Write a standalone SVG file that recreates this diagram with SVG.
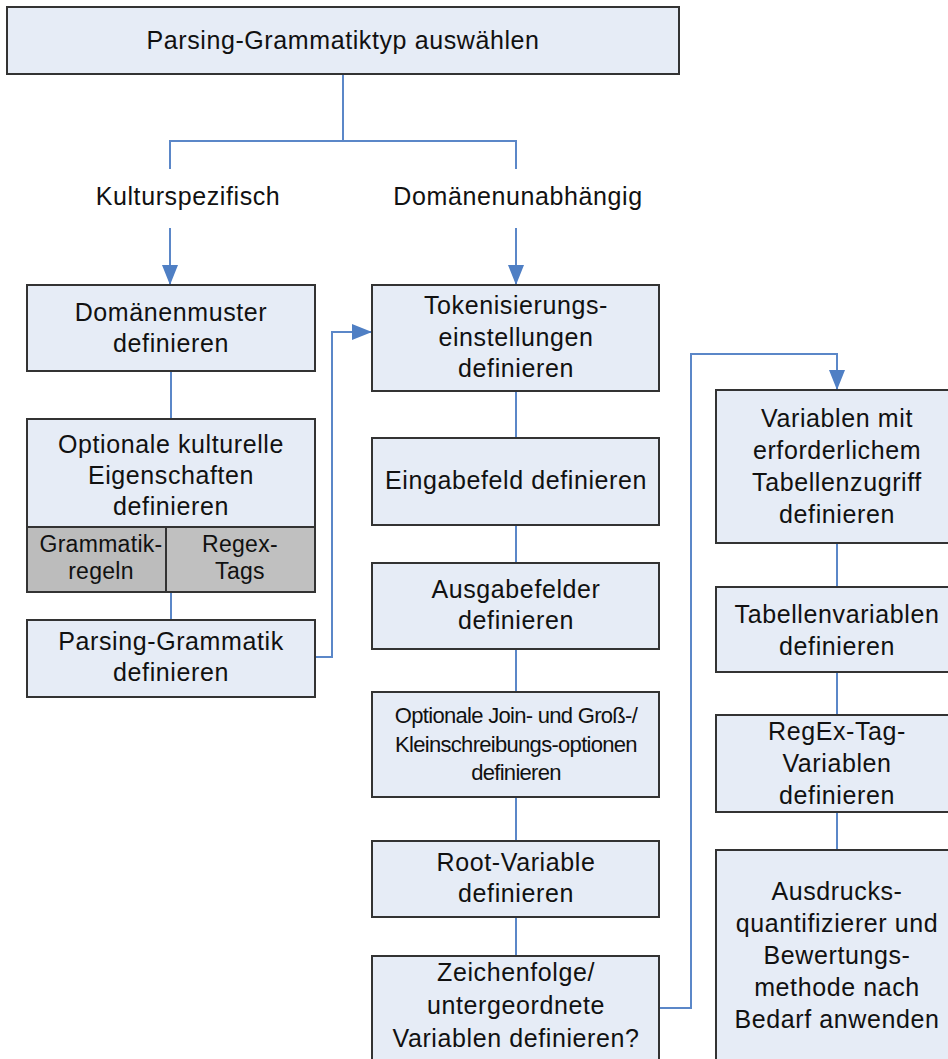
<svg xmlns="http://www.w3.org/2000/svg" width="948" height="1059" viewBox="0 0 948 1059">
<defs>
<marker id="arr" markerUnits="userSpaceOnUse" markerWidth="20" markerHeight="16" refX="20" refY="8" orient="auto">
<path d="M0,0 L20,8 L0,16 z" fill="#4f7fc4"/>
</marker>
<style>
.box{fill:#e6ecf6;stroke:#333;stroke-width:2}
.gray{fill:#c0c0c0;stroke:#333;stroke-width:2}
.t{font-family:"Liberation Sans",Arial,sans-serif;font-size:25px;letter-spacing:0.6px;fill:#111;text-anchor:middle}
.s{font-size:23px;letter-spacing:0.3px}
.c{font-size:22px;letter-spacing:-0.7px}
.ln{fill:none;stroke:#5b87c8;stroke-width:2}
</style>
</defs>
<rect width="948" height="1059" fill="#fff"/>
<g id="connectors">
<path class="ln" d="M343,74 V141 M170,169 V141 H516 V169"/>
<path class="ln" d="M170,228 V285" marker-end="url(#arr)"/>
<path class="ln" d="M516,228 V285" marker-end="url(#arr)"/>
<path class="ln" d="M171,371 V419 M171,592 V620"/>
<path class="ln" d="M315,657 H332 V332 H372" marker-end="url(#arr)"/>
<path class="ln" d="M516,391 V438 M516,525 V563 M516,649 V692 M516,797 V841 M516,917 V956"/>
<path class="ln" d="M659,1008 H691 V354 H837 V390" marker-end="url(#arr)"/>
<path class="ln" d="M837,543 V587 M837,672 V715 M837,812 V850"/>
</g>
<g id="n_top"><rect class="box" x="7" y="7" width="672" height="67"/><text class="t" x="343" y="49">Parsing-Grammatiktyp auswählen</text></g>
<g id="lbl_kultur"><text class="t" x="188" y="205">Kulturspezifisch</text></g>
<g id="lbl_domain"><text class="t" x="518" y="205">Domänenunabhängig</text></g>
<g id="n_domaenenmuster"><rect class="box" x="27" y="285" width="288" height="86"/><text class="t" x="171" y="321">Domänenmuster</text><text class="t" x="171" y="352">definieren</text></g>
<g id="n_optkult"><rect class="box" x="27" y="419" width="288" height="173"/><text class="t" x="171" y="453">Optionale kulturelle</text><text class="t" x="171" y="484">Eigenschaften</text><text class="t" x="171" y="515">definieren</text>
<rect class="gray" x="27" y="527" width="139" height="65" style="fill:#bcbcbc"/><rect class="gray" x="166" y="527" width="149" height="65"/>
<text class="t s" x="101" y="552">Grammatik-</text><text class="t s" x="101" y="579">regeln</text><text class="t s" x="240" y="552">Regex-</text><text class="t s" x="240" y="579">Tags</text></g>
<g id="n_parsgram"><rect class="box" x="27" y="620" width="288" height="77"/><text class="t" x="171" y="650">Parsing-Grammatik</text><text class="t" x="171" y="681">definieren</text></g>
<g id="n_token"><rect class="box" x="372" y="285" width="287" height="106"/><text class="t" x="516" y="314">Tokenisierungs-</text><text class="t" x="516" y="346">einstellungen</text><text class="t" x="516" y="377">definieren</text></g>
<g id="n_eingabe"><rect class="box" x="372" y="438" width="287" height="87"/><text class="t" x="516" y="489">Eingabefeld definieren</text></g>
<g id="n_ausgabe"><rect class="box" x="372" y="563" width="287" height="86"/><text class="t" x="516" y="598">Ausgabefelder</text><text class="t" x="516" y="629">definieren</text></g>
<g id="n_join"><rect class="box" x="372" y="692" width="287" height="105"/><text class="t c" x="516" y="723">Optionale Join- und Groß-/</text><text class="t c" x="516" y="752">Kleinschreibungs-optionen</text><text class="t c" x="516" y="780">definieren</text></g>
<g id="n_root"><rect class="box" x="372" y="841" width="287" height="76"/><text class="t" x="516" y="871">Root-Variable</text><text class="t" x="516" y="902">definieren</text></g>
<g id="n_zeichen"><rect class="box" x="372" y="956" width="287" height="120"/><text class="t" x="516" y="981">Zeichenfolge/</text><text class="t" x="516" y="1014">untergeordnete</text><text class="t" x="516" y="1047">Variablen definieren?</text></g>
<g id="n_tabzugriff"><rect class="box" x="716" y="390" width="242" height="153"/><text class="t" x="837" y="427">Variablen mit</text><text class="t" x="837" y="459">erforderlichem</text><text class="t" x="837" y="491">Tabellenzugriff</text><text class="t" x="837" y="523">definieren</text></g>
<g id="n_tabvar"><rect class="box" x="716" y="587" width="242" height="85"/><text class="t" x="837" y="623">Tabellenvariablen</text><text class="t" x="837" y="655">definieren</text></g>
<g id="n_regex"><rect class="box" x="716" y="715" width="242" height="97"/><text class="t" x="837" y="740">RegEx-Tag-</text><text class="t" x="837" y="772">Variablen</text><text class="t" x="837" y="804">definieren</text></g>
<g id="n_ausdruck"><rect class="box" x="716" y="850" width="242" height="230"/><text class="t" x="837" y="900">Ausdrucks-</text><text class="t" x="837" y="932">quantifizierer und</text><text class="t" x="837" y="964">Bewertungs-</text><text class="t" x="837" y="996">methode nach</text><text class="t" x="837" y="1028">Bedarf anwenden</text></g>
</svg>
